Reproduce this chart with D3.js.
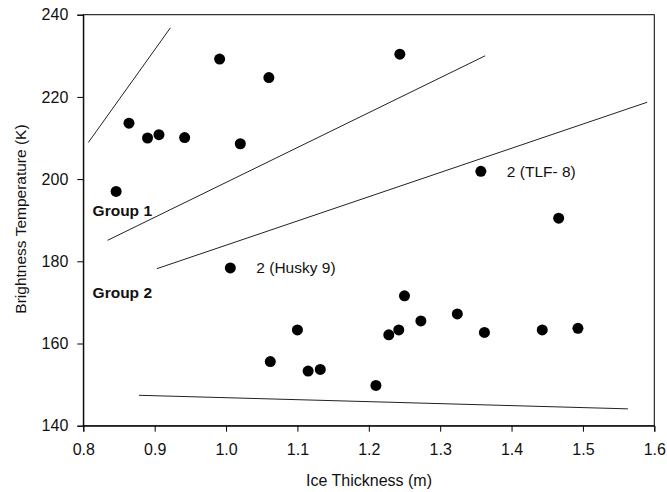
<!DOCTYPE html>
<html>
<head>
<meta charset="utf-8">
<script src="https://cdn.jsdelivr.net/npm/d3@7"></script>
<style>
  html, body { margin: 0; padding: 0; background: #fff; }
  svg { display: block; font-family: "Liberation Sans", Arial, sans-serif; }
</style>
</head>
<body>
<svg id="chart" width="667" height="492"></svg>
<script>
// Ice thickness (m) vs brightness temperature (K)
const thickness = [0.846, 0.864, 0.890, 0.906, 0.942, 0.991, 1.020, 1.060, 1.2435, 1.357, 1.466,
                   1.006, 1.100, 1.062, 1.115, 1.132, 1.210, 1.228, 1.242, 1.250, 1.273, 1.324, 1.362, 1.443, 1.493];
const brightness = [197.0, 213.6, 210.0, 210.8, 210.1, 229.2, 208.6, 224.7, 230.4, 201.9, 190.5,
                    178.4, 163.3, 155.6, 153.3, 153.7, 149.8, 162.1, 163.3, 171.6, 165.5, 167.2, 162.7, 163.3, 163.7];

// Boundary lines, each from (x1, y1) to (x2, y2) in data units
const boundaryX1 = [0.807, 0.834, 0.903, 0.878];
const boundaryY1 = [208.9, 185.1, 178.2, 147.4];
const boundaryX2 = [0.922, 1.363, 1.590, 1.563];
const boundaryY2 = [236.8, 230.0, 218.7, 144.1];

const xTicks = [0.8, 0.9, 1.0, 1.1, 1.2, 1.3, 1.4, 1.5, 1.6];
const yTicks = [140, 160, 180, 200, 220, 240];

const groupLabels = ["Group 1", "Group 2"];
const groupLabelX = [0.813, 0.813];
const groupLabelY = [191.0, 171.0];

const pointNotes = ["2 (Husky 9)", "2 (TLF- 8)"];
const noteX = [1.006, 1.357];
const noteY = [178.4, 201.9];

const svg = d3.select("#chart");
const plotLeft = 83.3, plotRight = 654.3, plotTop = 14.7, plotBottom = 425.7;
const FONT = "'Liberation Sans', Arial, sans-serif";

const x = d3.scaleLinear().domain([0.8, 1.6]).range([plotLeft, plotRight]);
const y = d3.scaleLinear().domain([140, 240]).range([plotBottom, plotTop]);

// frame
svg.append("rect")
  .attr("x", plotLeft).attr("y", plotTop)
  .attr("width", plotRight - plotLeft).attr("height", plotBottom - plotTop)
  .attr("fill", "none").attr("stroke", "#000").attr("stroke-width", 1);

const xAxis = svg.append("g")
  .attr("transform", `translate(0,${plotBottom})`)
  .call(d3.axisBottom(x).tickValues(xTicks).tickFormat(d3.format(".1f")).tickSizeOuter(0).tickSize(6).tickPadding(12));
const yAxis = svg.append("g")
  .attr("transform", `translate(${plotLeft},0)`)
  .call(d3.axisLeft(y).tickValues(yTicks).tickSizeOuter(0).tickSize(6).tickPadding(9));

[xAxis, yAxis].forEach(g => {
  g.select(".domain").attr("stroke", "#000");
  g.selectAll(".tick line").attr("stroke", "#000");
  g.selectAll(".tick text").attr("fill", "#111").style("font-size", "16px")
    .style("font-family", FONT);
});

// boundary lines
svg.append("g").selectAll("line")
  .data(boundaryX1.map((d, i) => i))
  .join("line")
  .attr("x1", i => x(boundaryX1[i])).attr("y1", i => y(boundaryY1[i]))
  .attr("x2", i => x(boundaryX2[i])).attr("y2", i => y(boundaryY2[i]))
  .attr("stroke", "#222").attr("stroke-width", 1);

// points
svg.append("g").selectAll("circle")
  .data(thickness.map((d, i) => i))
  .join("circle")
  .attr("cx", i => x(thickness[i]))
  .attr("cy", i => y(brightness[i]))
  .attr("r", 5.5)
  .attr("fill", "#000");

// group labels
svg.append("g").selectAll("text")
  .data(groupLabels)
  .join("text")
  .attr("x", (d, i) => x(groupLabelX[i]))
  .attr("y", (d, i) => y(groupLabelY[i]))
  .attr("font-size", 15.5).attr("font-weight", "bold").attr("fill", "#111")
  .text(d => d);

// notes beside points
svg.append("g").selectAll("text")
  .data(pointNotes)
  .join("text")
  .attr("x", (d, i) => x(noteX[i]) + 26)
  .attr("y", (d, i) => y(noteY[i]) + 5.5)
  .attr("font-size", 15.5).attr("fill", "#111")
  .text(d => d);

// axis titles
svg.append("text")
  .attr("x", 369).attr("y", 486)
  .attr("text-anchor", "middle").attr("font-size", 16).attr("fill", "#111")
  .text("Ice Thickness (m)");
svg.append("text")
  .attr("transform", `translate(26,219) rotate(-90)`)
  .attr("text-anchor", "middle").attr("font-size", 15.5).attr("fill", "#111")
  .text("Brightness Temperature (K)");
</script>
</body>
</html>
